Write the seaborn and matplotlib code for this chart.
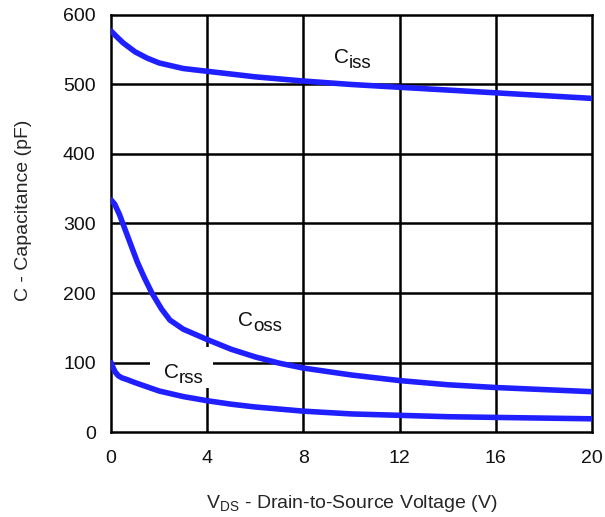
import matplotlib
matplotlib.use("Agg")
import matplotlib.pyplot as plt
from matplotlib.patches import Rectangle
import seaborn as sns
import pandas as pd

vds_iss = [0, 0.2, 0.5, 1.0, 1.5, 2.0, 2.5, 3, 4, 5, 6, 8, 10, 12, 14, 16, 18, 20]
ciss = [577, 570, 560, 547, 538, 531, 527, 523, 519, 515, 511, 505, 500, 496, 492, 488, 484, 480]

vds_oss = [0, 0.15, 0.35, 0.6, 0.85, 1.1, 1.4, 1.7, 2.1, 2.45, 3, 4, 5, 6, 7, 8, 10, 12, 14, 16, 18, 20]
coss = [334, 328, 313, 290, 267, 244, 221, 200, 177, 161, 148, 133, 119, 108, 99, 92, 82, 74, 68, 64, 61, 58]

vds_rss = [0, 0.08, 0.18, 0.3, 0.45, 0.7, 1.0, 1.5, 2, 3, 4, 5, 6, 8, 10, 12, 14, 16, 18, 20]
crss = [100, 93, 86, 81, 78, 75, 71, 65, 59, 51, 45, 40, 36, 30, 26, 24, 22, 21, 20, 19]

x_ticks = [0, 4, 8, 12, 16, 20]
y_ticks = [0, 100, 200, 300, 400, 500, 600]

# curve labels: (subscript, x, y of "C" baseline-left)
labels = [("iss", 9.27, 531), ("oss", 5.28, 152.5), ("rss", 2.20, 77.7)]

sns.set_theme(style="white")
plt.rcParams['font.family'] = ['Liberation Sans', 'DejaVu Sans']
plt.rcParams['mathtext.fontset'] = 'custom'
plt.rcParams['mathtext.rm'] = 'Liberation Sans'

df = pd.concat([
    pd.DataFrame({"V": vds_iss, "C": ciss, "s": "iss"}),
    pd.DataFrame({"V": vds_oss, "C": coss, "s": "oss"}),
    pd.DataFrame({"V": vds_rss, "C": crss, "s": "rss"}),
])

fig = plt.figure(figsize=(6.05, 5.17), dpi=100)
ax = fig.add_axes([0.1835, 0.1644, 0.795, 0.8066])
ax.set_xlim(0, 20)
ax.set_ylim(0, 600)
ax.set_xticks(x_ticks)
ax.set_yticks(y_ticks)
for v in x_ticks[1:-1]:
    ax.axvline(v, color="black", lw=1.8, zorder=1)
for v in y_ticks[1:-1]:
    ax.axhline(v, color="black", lw=1.8, zorder=1)

sns.lineplot(data=df, x="V", y="C", units="s", estimator=None, color="#1f1fff",
             lw=4, ax=ax, zorder=3, legend=False)
for ln in ax.get_lines():
    ln.set_solid_joinstyle("round")
    ln.set_solid_capstyle("round")

for sp in ax.spines.values():
    sp.set_color("black")
    sp.set_linewidth(1.8)
ax.tick_params(axis="both", length=0, labelsize=14, colors="#111111")
ax.tick_params(axis="x", pad=13)
ax.tick_params(axis="y", pad=11)

ax.set_xlabel(r"V$_{\mathregular{DS}}$ - Drain-to-Source Voltage (V)", fontsize=14, labelpad=19)
ax.set_ylabel("C - Capacitance (pF)", fontsize=14)
ax.yaxis.set_label_coords(-0.164, 0.532)

for sub, lx, ly in labels:
    if sub == "rss":
        ax.add_patch(Rectangle((lx - 0.58, ly - 15), 2.62, 59, facecolor="white",
                               edgecolor="none", zorder=2))
    ax.annotate("C", xy=(lx, ly), ha="left", va="baseline", fontsize=15,
                color="#111111", zorder=4)
    ax.annotate(sub, xy=(lx, ly), xytext=(10.9, -3.6), textcoords="offset points",
                ha="left", va="baseline", fontsize=13.5, color="#111111", zorder=4)

fig.savefig("out.png", dpi=100)
